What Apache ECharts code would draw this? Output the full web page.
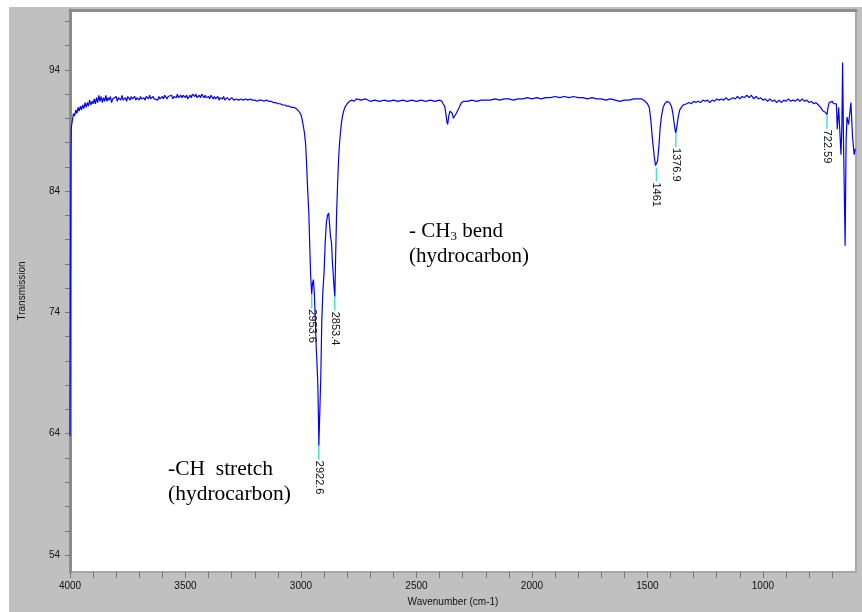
<!DOCTYPE html>
<html>
<head>
<meta charset="utf-8">
<script src="https://cdn.jsdelivr.net/npm/echarts@6/dist/echarts.min.js"></script>
<style>
  body { margin: 0; background: #fff; }
  #main { position: absolute; left: 9px; top: 7px; width: 853px; height: 605px; }
</style>
</head>
<body>
<div id="main"></div>
<script>
// spectrum (wavenumber cm-1, % transmission)
var wavenumbers = [
  4000, 3998, 3996, 3994, 3990, 3985, 3980, 3975, 3970, 3965, 3960, 3955, 3950, 3945, 3940, 3935, 3930, 3925, 3920, 3915,
  3910, 3905, 3900, 3895, 3890, 3885, 3880, 3875, 3870, 3865, 3860, 3855, 3850, 3845, 3840, 3835, 3830, 3825, 3820, 3815,
  3810, 3800, 3795, 3790, 3780, 3775, 3770, 3760, 3755, 3750, 3740, 3735, 3730, 3720, 3715, 3710, 3700, 3695, 3690, 3680,
  3675, 3670, 3660, 3655, 3650, 3640, 3635, 3630, 3620, 3615, 3610, 3600, 3595, 3590, 3580, 3575, 3570, 3560, 3555, 3550,
  3540, 3535, 3530, 3520, 3515, 3510, 3500, 3495, 3490, 3480, 3475, 3470, 3460, 3455, 3450, 3440, 3435, 3430, 3420, 3415,
  3410, 3400, 3395, 3390, 3380, 3375, 3370, 3360, 3355, 3350, 3340, 3335, 3330, 3320, 3310, 3300, 3290, 3280, 3270, 3260,
  3250, 3240, 3230, 3220, 3210, 3200, 3190, 3180, 3170, 3160, 3150, 3140, 3130, 3120, 3110, 3100, 3090, 3080, 3070, 3060,
  3050, 3040, 3030, 3020, 3010, 3005, 3000, 2995, 2990, 2985, 2980, 2976, 2971, 2966, 2962, 2958, 2953.6, 2950, 2946, 2942,
  2938, 2934, 2930, 2927, 2924, 2922.6, 2920, 2917, 2914, 2910, 2905, 2900, 2895, 2890, 2885, 2880, 2876, 2872, 2868, 2864,
  2860, 2856, 2853.4, 2850, 2846, 2842, 2838, 2834, 2830, 2825, 2820, 2815, 2810, 2800, 2790, 2780, 2770, 2760, 2740, 2720,
  2700, 2680, 2660, 2640, 2620, 2600, 2580, 2560, 2540, 2520, 2500, 2480, 2460, 2440, 2420, 2400, 2390, 2385, 2378, 2372,
  2368, 2365, 2360, 2355, 2350, 2345, 2340, 2335, 2328, 2322, 2315, 2305, 2295, 2280, 2260, 2240, 2220, 2200, 2180, 2160,
  2140, 2120, 2100, 2080, 2060, 2040, 2020, 2000, 1980, 1960, 1940, 1920, 1900, 1880, 1860, 1840, 1820, 1800, 1780, 1760,
  1740, 1720, 1700, 1680, 1660, 1640, 1620, 1600, 1580, 1560, 1540, 1525, 1510, 1500, 1492, 1485, 1478, 1470, 1465, 1461,
  1456, 1450, 1445, 1439, 1432, 1425, 1415, 1405, 1396, 1390, 1385, 1380, 1376.9, 1372, 1366, 1360, 1353, 1345, 1338, 1330,
  1320, 1310, 1300, 1290, 1280, 1270, 1260, 1250, 1240, 1230, 1220, 1210, 1200, 1190, 1180, 1170, 1160, 1150, 1140, 1130,
  1120, 1110, 1100, 1090, 1080, 1070, 1060, 1050, 1040, 1030, 1020, 1010, 1000, 990, 980, 970, 960, 950, 940, 930,
  920, 910, 900, 890, 880, 870, 860, 850, 840, 830, 820, 810, 800, 790, 780, 770, 760, 750, 745, 740,
  735, 730, 722.59, 718, 713, 706, 700, 694, 687, 682, 678, 672, 666, 662, 658, 655, 651, 644, 640, 636,
  629, 619, 612, 605, 600
];
var transmission = [
  63.8, 78.0, 87.5, 89.3, 89.8, 90.4, 90.2, 90.7, 90.4, 90.9, 90.6, 91.0, 90.7, 91.1, 90.8, 91.3, 90.9, 91.3, 91.0, 91.5,
  91.1, 91.4, 91.2, 91.6, 91.2, 91.7, 91.3, 91.9, 91.4, 91.8, 91.3, 91.7, 91.4, 91.9, 91.4, 91.7, 91.5, 91.8, 91.3, 91.6,
  91.5, 91.8, 91.4, 91.7, 91.5, 91.9, 91.5, 91.7, 91.4, 91.8, 91.5, 91.8, 91.6, 91.8, 91.5, 91.7, 91.5, 91.8, 91.6, 91.7,
  91.5, 91.8, 91.6, 91.9, 91.6, 91.8, 91.6, 91.7, 91.5, 91.8, 91.6, 91.8, 91.6, 91.9, 91.6, 91.8, 91.7, 91.9, 91.6, 91.8,
  91.7, 92.0, 91.7, 91.9, 91.7, 91.9, 91.7, 91.9, 91.6, 91.9, 91.7, 92.0, 91.8, 92.0, 91.7, 91.9, 91.7, 92.0, 91.7, 91.9,
  91.7, 91.8, 91.6, 91.9, 91.6, 91.8, 91.6, 91.8, 91.5, 91.7, 91.6, 91.8, 91.5, 91.7, 91.5, 91.7, 91.5, 91.6, 91.5, 91.6,
  91.5, 91.6, 91.5, 91.6, 91.5, 91.5, 91.4, 91.5, 91.5, 91.4, 91.5, 91.4, 91.4, 91.3, 91.3, 91.2, 91.2, 91.1, 91.1, 91.0,
  91.0, 90.9, 90.9, 90.8, 90.6, 90.5, 90.3, 89.9, 89.4, 88.8, 87.9, 86.4, 84.1, 82.2, 79.5, 77.0, 75.5, 76.4, 76.7, 75.5,
  73.5, 71.2, 69.5, 68.0, 65.0, 63.0, 64.8, 66.8, 68.8, 73.2, 75.8, 77.3, 79.8, 81.4, 82.0, 82.2, 81.2, 80.2, 79.8, 78.2,
  77.0, 75.9, 75.3, 78.5, 82.0, 84.3, 86.3, 87.7, 88.6, 89.6, 90.2, 90.6, 90.9, 91.2, 91.4, 91.5, 91.4, 91.6, 91.5, 91.6,
  91.4, 91.5, 91.4, 91.5, 91.4, 91.5, 91.4, 91.5, 91.4, 91.5, 91.4, 91.5, 91.4, 91.5, 91.4, 91.5, 91.4, 91.2, 91.0, 90.3,
  89.7, 89.5, 90.2, 90.6, 90.7, 90.4, 90.0, 90.1, 90.4, 90.5, 90.9, 91.3, 91.4, 91.4, 91.5, 91.4, 91.5, 91.5, 91.5, 91.6,
  91.5, 91.6, 91.6, 91.5, 91.6, 91.6, 91.7, 91.6, 91.7, 91.6, 91.7, 91.7, 91.8, 91.7, 91.8, 91.7, 91.8, 91.7, 91.7, 91.6,
  91.7, 91.6, 91.6, 91.5, 91.6, 91.5, 91.4, 91.5, 91.5, 91.6, 91.6, 91.6, 91.4, 91.2, 90.9, 89.8, 88.2, 86.8, 86.1, 85.95,
  86.5, 87.8, 89.2, 90.2, 90.9, 91.2, 91.4, 91.3, 91.0, 90.4, 89.7, 89.0, 88.8, 89.4, 90.2, 90.7, 90.9, 91.1, 91.2, 91.2,
  91.3, 91.2, 91.4, 91.3, 91.4, 91.3, 91.5, 91.4, 91.5, 91.3, 91.5, 91.4, 91.6, 91.5, 91.6, 91.5, 91.7, 91.5, 91.6, 91.7,
  91.6, 91.8, 91.6, 91.8, 91.7, 91.9, 91.7, 91.9, 91.6, 91.8, 91.6, 91.7, 91.5, 91.6, 91.4, 91.6, 91.4, 91.5, 91.3, 91.5,
  91.3, 91.5, 91.4, 91.6, 91.4, 91.5, 91.4, 91.6, 91.4, 91.6, 91.4, 91.5, 91.3, 91.4, 91.2, 91.3, 91.1, 90.9, 90.8, 90.6,
  90.7, 90.5, 90.3, 90.9, 91.3, 91.2, 91.4, 91.2, 91.3, 91.2, 89.1, 90.9, 90.8, 87.0, 89.5, 94.6, 88.0, 79.5, 88.0, 90.1,
  89.5, 91.3, 88.5, 87.0, 87.5
];

// labelled peaks
var peakWave = [2953.6, 2922.6, 2853.4, 1461, 1376.9, 722.59];
var peakTrans = [75.5, 63.0, 75.3, 85.95, 88.8, 90.3];
var peakLabels = ['2953.6', '2922.6', '2853.4', '1461', '1376.9', '722.59'];

// ticks
var xTicks = [];
for (var t = 700; t <= 4000; t += 100) xTicks.push(t);
var xLabels = [1000, 1500, 2000, 2500, 3000, 3500, 4000];
var yTicks = [];
for (var s = 54; s <= 98; s += 2) yTicks.push(s);
var yLabels = [54, 64, 74, 84, 94];

var spectrum = [];
for (var i = 0; i < wavenumbers.length; i++) {
  spectrum.push([wavenumbers[i], transmission[i]]);
}
var peaks = [];
for (var k = 0; k < peakWave.length; k++) {
  peaks.push([peakWave[k], peakTrans[k]]);
}

var sansFont = 'Liberation Sans, Arial, sans-serif';
var serifFont = 'Liberation Serif, Times New Roman, serif';

var option = {
  backgroundColor: '#c0c0c0',
  animation: false,
  grid: {
    left: 61, top: 3, right: 6, bottom: 38,
    show: true,
    backgroundColor: '#fff',
    borderColor: '#a8a8a8',
    borderWidth: 2
  },
  xAxis: [{
    type: 'value',
    inverse: true,
    min: 597,
    max: 4000,
    name: 'Wavenumber (cm-1)',
    nameLocation: 'middle',
    nameGap: 25,
    nameTextStyle: { color: '#111', fontSize: 10, fontFamily: sansFont, padding: [0, 20, 0, 0] },
    axisLine: { show: false },
    axisTick: { show: true, inside: false, length: 6, lineStyle: { color: '#777' }, customValues: xTicks },
    axisLabel: {
      color: '#111', fontSize: 10, fontFamily: sansFont, margin: 9, customValues: xLabels,
      formatter: function (v) { return String(v); }
    },
    splitLine: { show: false }
  }, {
    type: 'value',
    position: 'top',
    inverse: true,
    min: 597,
    max: 4000,
    axisLine: { show: true, lineStyle: { color: '#8c8c8c', width: 3 } },
    axisTick: { show: false },
    axisLabel: { show: false },
    splitLine: { show: false }
  }],
  yAxis: {
    type: 'value',
    min: 52.6,
    max: 98.93,
    name: 'Transmission',
    nameLocation: 'middle',
    nameGap: 43,
    nameTextStyle: { color: '#111', fontSize: 10, fontFamily: sansFont },
    axisLine: { show: true, lineStyle: { color: '#8c8c8c', width: 3 } },
    axisTick: { show: true, inside: false, length: 5, lineStyle: { color: '#777' }, customValues: yTicks },
    axisLabel: {
      color: '#111', fontSize: 10, fontFamily: sansFont, margin: 10, customValues: yLabels,
      formatter: function (v) { return String(v); }
    },
    splitLine: { show: false }
  },
  graphic: [
    {
      type: 'text', left: 159, top: 450, z: 10,
      style: { text: '-CH  stretch\n(hydrocarbon)', font: '21.5px ' + serifFont, fill: '#000', lineHeight: 25 }
    },
    {
      type: 'text', left: 400, top: 213, z: 10,
      style: {
        text: '{n|- CH}{s|3}{n| bend}\n{n|(hydrocarbon)}',
        font: '21px ' + serifFont, fill: '#000',
        rich: {
          n: { fontSize: 21, fontFamily: serifFont, lineHeight: 25, fill: '#000' },
          s: { fontSize: 13, fontFamily: serifFont, lineHeight: 25, padding: [10, 0, 0, 0], fill: '#000' }
        }
      }
    }
  ],
  series: [{
    type: 'line',
    data: spectrum,
    showSymbol: false,
    symbol: 'none',
    lineStyle: { color: '#0000ff', width: 1.2 },
    z: 3
  }, {
    type: 'custom',
    data: peaks,
    z: 4,
    renderItem: function (params, api) {
      var p = api.coord([api.value(0), api.value(1)]);
      return {
        type: 'group',
        children: [{
          type: 'line',
          shape: { x1: p[0], y1: p[1], x2: p[0], y2: p[1] + 14 },
          style: { stroke: '#40e8c8', lineWidth: 1.5 }
        }, {
          type: 'text',
          x: p[0],
          y: p[1] + 15,
          rotation: -Math.PI / 2,
          style: {
            text: peakLabels[params.dataIndex],
            font: '11px ' + sansFont,
            fill: '#111',
            textAlign: 'left',
            textVerticalAlign: 'middle'
          }
        }]
      };
    }
  }]
};

var myChart = echarts.init(document.getElementById('main'));
myChart.setOption(option);
</script>
</body>
</html>
